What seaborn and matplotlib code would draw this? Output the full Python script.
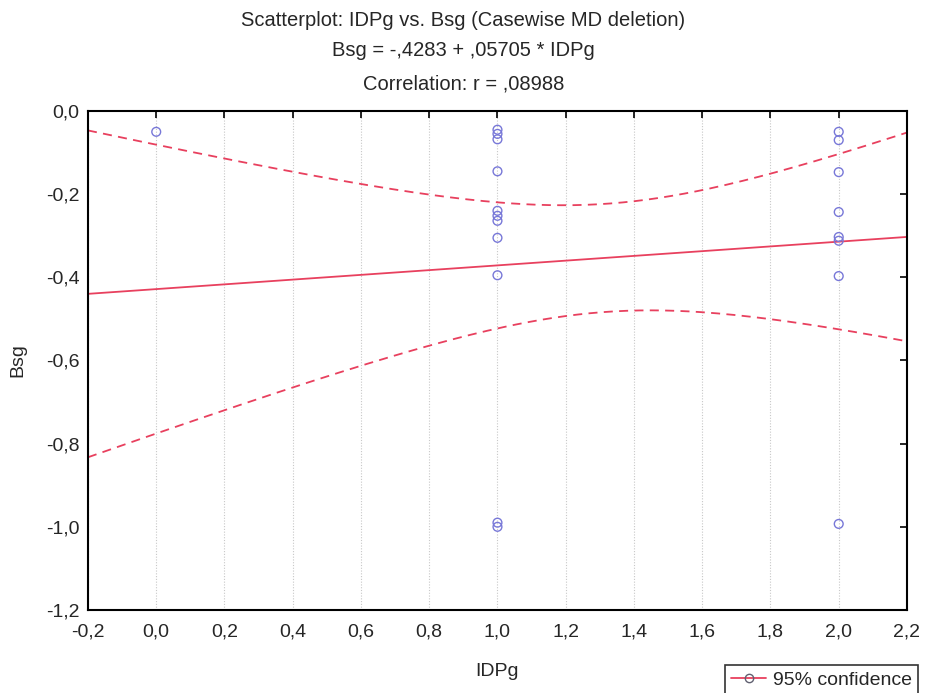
import numpy as np
import pandas as pd
import matplotlib
matplotlib.use("Agg")
import matplotlib.pyplot as plt
import seaborn as sns
from matplotlib.lines import Line2D

# ---- data ----
idpg_x = [0.0] + [1.0] * 11 + [2.0] * 8
bsg_y = [-0.05,
         -0.045, -0.055, -0.068, -0.145, -0.24, -0.252, -0.264, -0.305, -0.395, -0.99, -1.0,
         -0.05, -0.07, -0.147, -0.243, -0.303, -0.312, -0.397, -0.993]

# regression (from title) and confidence band parameters
intercept = -0.4283
slope = 0.05705
x_mean = 1.32
se_at_mean = 0.130
se_slope = 0.244

x_ticks = [-0.2, 0.0, 0.2, 0.4, 0.6, 0.8, 1.0, 1.2, 1.4, 1.6, 1.8, 2.0, 2.2]
x_ticklabels = ["-0,2", "0,0", "0,2", "0,4", "0,6", "0,8", "1,0", "1,2", "1,4", "1,6", "1,8", "2,0", "2,2"]
y_ticks = [-1.2, -1.0, -0.8, -0.6, -0.4, -0.2, 0.0]
y_ticklabels = ["-1,2", "-1,0", "-0,8", "-0,6", "-0,4", "-0,2", "0,0"]

title_lines = ["Scatterplot: IDPg vs. Bsg (Casewise MD deletion)",
               "Bsg = -,4283 + ,05705 * IDPg",
               "Correlation: r = ,08988"]

# ---- build ----
sns.set_style("white")
plt.rcParams["font.family"] = ["Liberation Sans", "DejaVu Sans"]

df = pd.DataFrame({"IDPg": idpg_x, "Bsg": bsg_y})
xs = np.linspace(-0.2, 2.2, 200)
fit = intercept + slope * xs
half = np.sqrt(se_at_mean ** 2 + (se_slope * (xs - x_mean)) ** 2)
band = pd.DataFrame({"x": xs, "fit": fit, "lo": fit - half, "hi": fit + half})

fig = plt.figure(figsize=(9.27, 6.93), dpi=100)
ax = fig.add_axes([0.0949, 0.1198, 0.8835, 0.72])

red = "#e8405e"
for xv in x_ticks:
    ax.axvline(xv, color="#c8c8c8", lw=0.8, ls=(0, (1, 1.5)), zorder=0)

sns.lineplot(data=band, x="x", y="fit", ax=ax, color=red, lw=1.3, zorder=2)
sns.lineplot(data=band, x="x", y="lo", ax=ax, color=red, lw=1.3, zorder=2)
sns.lineplot(data=band, x="x", y="hi", ax=ax, color=red, lw=1.3, zorder=2)
for ln in ax.lines[-2:]:
    ln.set_dashes((5, 3.5))

sns.scatterplot(data=df, x="IDPg", y="Bsg", ax=ax, marker="o", s=40,
                facecolors="none", edgecolor="#7878d8", linewidth=1.0, zorder=3)

fs = 14
ax.set_xlim(-0.2, 2.2)
ax.set_ylim(-1.2, 0.0)
ax.set_xticks(x_ticks)
ax.set_xticklabels(x_ticklabels, fontsize=fs)
ax.set_yticks(y_ticks)
ax.set_yticklabels(y_ticklabels, fontsize=fs)
ax.tick_params(direction="in", length=5, width=1.2, top=True, right=True, color="black", pad=6)
ax.tick_params(axis="x", pad=10)
ax.set_xlabel("IDPg", fontsize=fs, labelpad=16)
ax.set_ylabel("Bsg", fontsize=fs, labelpad=14)
for sp in ax.spines.values():
    sp.set_color("black")
    sp.set_linewidth(1.5)

fig.text(0.5, 1 - 20 / 693, title_lines[0], ha="center", va="center", fontsize=14.5)
fig.text(0.5, 1 - 51 / 693, title_lines[1], ha="center", va="center", fontsize=14.5)
fig.text(0.5, 1 - 84 / 693, title_lines[2], ha="center", va="center", fontsize=14.5)

handle = Line2D([0], [0], color=red, lw=1.3, marker="o", markerfacecolor="none",
                markeredgecolor="#606070", markersize=6)
leg = fig.legend([handle], ["95% confidence"], loc="lower left",
                 bbox_to_anchor=(0.772, -0.016), frameon=True, fontsize=14,
                 fancybox=False, edgecolor="black", handlelength=1.8,
                 borderpad=0.3, handletextpad=0.35)
leg.get_frame().set_linewidth(1.2)

fig.savefig("out.png", dpi=100)
